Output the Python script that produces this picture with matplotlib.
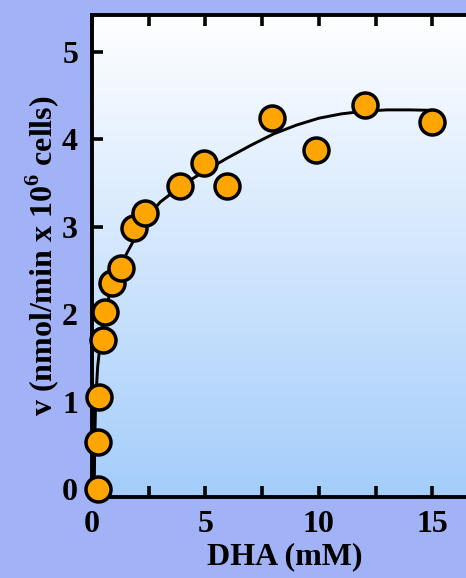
import numpy as np
import matplotlib
matplotlib.use("Agg")
import matplotlib.pyplot as plt
from matplotlib.colors import LinearSegmentedColormap

# Measured uptake rates
dha_mM = [0.27, 0.27, 0.30, 0.49, 0.56, 0.88, 1.28, 1.85, 2.35,
          3.86, 4.93, 5.96, 7.95, 9.87, 12.04, 15.0]
rate = [0.0, 0.54, 1.05, 1.71, 2.03, 2.36, 2.53, 2.99, 3.16,
        3.47, 3.73, 3.46, 4.24, 3.88, 4.39, 4.20]

# Fitted kinetic curve
fit_x = [0.10, 0.12, 0.16, 0.25, 0.40, 0.60, 0.80, 1.00, 1.50, 2.00,
         2.50, 3.00, 4.00, 5.00, 6.00, 7.00, 8.00, 9.00, 10.00, 11.00,
         12.00, 13.00, 14.00, 15.00]
fit_y = [0.00, 0.50, 1.00, 1.40, 1.75, 2.05, 2.25, 2.38, 2.68, 2.92,
         3.12, 3.28, 3.48, 3.64, 3.79, 3.93, 4.06, 4.16, 4.24, 4.29,
         4.32, 4.335, 4.335, 4.33]

x_major = [0, 2.5, 5, 7.5, 10, 12.5, 15]
x_labels = ["0", "", "5", "", "10", "", "15"]
y_major = [0, 1, 2, 3, 4, 5]
y_labels = ["0", "1", "2", "3", "4", "5"]

plt.rcParams["font.family"] = ["Liberation Serif", "DejaVu Serif"]
plt.rcParams["font.weight"] = "bold"
plt.rcParams["mathtext.fontset"] = "custom"
plt.rcParams["mathtext.rm"] = "Liberation Serif:bold"
plt.rcParams["mathtext.bf"] = "Liberation Serif:bold"

fig = plt.figure(figsize=(4.66, 5.78), dpi=100)
fig.patch.set_facecolor("#a2b2f6")

ax = fig.add_axes([0.1974, 0.1401, 0.8277, 0.834])
ax.set_xlim(0, 17)
ax.set_ylim(-0.09, 5.42)

# Vertical background gradient inside the axes
grad = LinearSegmentedColormap.from_list("bg", ["#a4cdfb", "#ffffff"])
ax.imshow(np.linspace(0, 1, 256).reshape(-1, 1)[::-1], cmap=grad,
          extent=[0, 1, 0, 1], transform=ax.transAxes, aspect="auto",
          zorder=0, interpolation="bicubic")

ax.plot(fit_x, fit_y, color="black", lw=2.1, zorder=2,
        solid_joinstyle="round")
ax.plot(dha_mM, rate, linestyle="none", marker="o", markersize=18,
        markerfacecolor="#ffa500", markeredgecolor="black",
        markeredgewidth=2.5, zorder=3, clip_on=False)

for s in ax.spines.values():
    s.set_linewidth(2.8)
    s.set_zorder(2.5)

ax.set_xticks(x_major)
ax.set_xticklabels(x_labels)
ax.set_yticks(y_major)
ax.set_yticklabels(y_labels)
ax.tick_params(axis="both", which="major", direction="in", length=8,
               width=2.6, top=True, right=True, labelsize=23)
ax.tick_params(axis="x", pad=9)
ax.tick_params(axis="y", pad=10)

ax.set_xlabel("DHA (mM)", fontsize=23, fontweight="bold", labelpad=3)
ax.set_ylabel(r"v (nmol/min x 10$^6$ cells)", fontsize=23,
              fontweight="bold", labelpad=1)

fig.savefig("out.png", dpi=100, facecolor=fig.get_facecolor())
